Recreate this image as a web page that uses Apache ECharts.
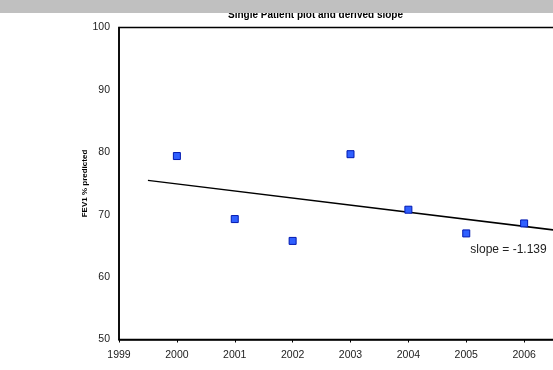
<!DOCTYPE html>
<html>
<head>
<meta charset="utf-8">
<script src="https://cdn.jsdelivr.net/npm/echarts@6/dist/echarts.min.js"></script>
<style>
html,body{margin:0;padding:0;background:#fff;}
#chart{width:553px;height:370px;}
</style>
</head>
<body>
<div id="chart"></div>
<script>
// Data
var years = [2000, 2001, 2002, 2003, 2004, 2005, 2006];
var fev1 = [79.4, 69.3, 65.8, 79.7, 70.8, 67.0, 68.6];
// Fitted regression line endpoints (slope = -1.139)
var trendX = [1999.5, 2007];
var trendY = [75.5, 67.0];
var xTicks = [1999, 2000, 2001, 2002, 2003, 2004, 2005, 2006, 2007];
var yTicks = [50, 60, 70, 80, 90, 100];
var titleText = 'Single Patient plot and derived slope';
var yName = 'FEV1 % predicted';
var slopeText = 'slope = -1.139';
var slopeAnchor = [2005.07, 64.3];

var chart = echarts.init(document.getElementById('chart'), null, {renderer: 'canvas'});
var font = 'Arial, "Liberation Sans", sans-serif';

var option = {
  backgroundColor: '#ffffff',
  animation: false,
  title: {
    text: titleText,
    left: 228,
    top: 10,
    padding: 0,
    textStyle: {fontFamily: font, fontSize: 10, fontWeight: 'bold', color: '#000'}
  },
  grid: {
    left: 119, top: 27.5, right: -29, bottom: 30.5,
    containLabel: false,
    outerBoundsMode: 'none',
    show: true, borderColor: '#000', borderWidth: 1.5, backgroundColor: 'transparent'
  },
  xAxis: {
    type: 'value',
    min: xTicks[0], max: xTicks[xTicks.length - 1], interval: 1,
    axisLine: {show: true, onZero: false, lineStyle: {color: '#000', width: 1.5}},
    axisTick: {show: true, inside: false, length: 3, lineStyle: {color: '#000', width: 1}},
    axisLabel: {
      margin: 10, color: '#222', fontFamily: font, fontSize: 10.5,
      formatter: function (v) { return xTicks.indexOf(v) >= 0 ? String(v) : ''; }
    },
    splitLine: {show: false}
  },
  yAxis: {
    type: 'value',
    min: yTicks[0], max: yTicks[yTicks.length - 1], interval: 10,
    name: yName,
    nameLocation: 'middle',
    nameGap: 30,
    nameMoveOverlap: false,
    nameTextStyle: {fontFamily: font, fontSize: 8, fontWeight: 'bold', color: '#000'},
    axisLine: {show: true, onZero: false, lineStyle: {color: '#000', width: 1.5}},
    axisTick: {show: false},
    axisLabel: {
      margin: 9, color: '#222', fontFamily: font, fontSize: 10.5,
      formatter: function (v) { return yTicks.indexOf(v) >= 0 ? String(v) : ''; }
    },
    splitLine: {show: false}
  },
  series: [
    {
      type: 'line',
      data: trendX.map(function (x, i) { return [x, trendY[i]]; }),
      symbol: 'none',
      lineStyle: {color: '#000', width: 1.5},
      z: 2
    },
    {
      type: 'scatter',
      data: years.map(function (y, i) { return [y, fev1[i]]; }),
      symbol: 'rect',
      symbolSize: 7,
      itemStyle: {color: '#3060ff', borderColor: '#0018b0', borderWidth: 1, opacity: 1},
      z: 3
    }
  ]
};
chart.setOption(option);

var p = chart.convertToPixel({gridIndex: 0}, slopeAnchor);
chart.setOption({
  graphic: [
    {
      type: 'text', left: p[0], top: p[1] - 7, z: 10,
      style: {text: slopeText, fontFamily: font, fontSize: 12, fill: '#222'}
    },
    {
      type: 'rect', left: 0, top: 0, z: 100,
      shape: {width: 553, height: 13},
      style: {fill: '#c0c0c0'}
    }
  ]
});
</script>
</body>
</html>
